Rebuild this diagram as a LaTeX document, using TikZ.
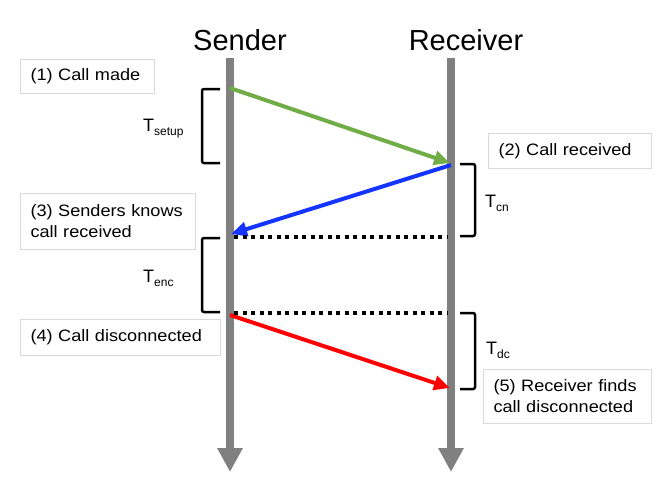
\documentclass[tikz,border=0pt]{standalone}
\usepackage{fontspec}
\setmainfont{Liberation Sans}
\newfontfamily\boxfont[FakeStretch=1.1]{Liberation Sans}
\usetikzlibrary{arrows.meta}
\definecolor{lifegray}{HTML}{808080}
\definecolor{boxgray}{HTML}{D9D9D9}
\definecolor{sgreen}{HTML}{70AD47}
\definecolor{sblue}{HTML}{1434FF}
\definecolor{sred}{HTML}{FF0000}
\begin{document}
\begin{tikzpicture}[x=1pt,y=-1pt,
  lifeline/.style={line width=8pt, draw=lifegray, -{Triangle[length=24pt,width=24pt]}},
  msg/.style={line width=4pt, -{Triangle[length=16pt,width=14pt]}},
  dotline/.style={line width=4pt, dash pattern=on 4pt off 4.5pt},
  bracket/.style={line width=2.5pt, rounded corners=2pt},
  box/.style={draw=boxgray, line width=1pt, anchor=north west, align=left, inner xsep=10pt, inner ysep=0pt, font=\boxfont\fontsize{16.5}{21}\selectfont},
  title/.style={font=\fontsize{29}{32}\selectfont, inner sep=0pt},
  tlabel/.style={anchor=base west, inner sep=0pt, font=\fontsize{18}{18}\selectfont}
]
\fill[white] (0,0) rectangle (663,495);
\useasboundingbox (0,0) rectangle (663,495);

% titles
\node[title] (sender) at (240,40) {Sender};
\node[title] (receiver) at (466,40) {Receiver};

% lifelines
\coordinate (stop) at (230,58);
\coordinate (sbot) at (230,472);
\coordinate (rtop) at (451,58);
\coordinate (rbot) at (451,472);
\draw[lifeline] (stop) -- (sbot);
\draw[lifeline] (rtop) -- (rbot);

% message points
\coordinate (g1) at (230,88);
\coordinate (g2) at (450,163);
\coordinate (b1) at (451,165);
\coordinate (b2) at (231,234);
\coordinate (d1a) at (234,237);
\coordinate (d1b) at (447,237);
\coordinate (d2a) at (234,313);
\coordinate (d2b) at (447,313);
\coordinate (r1) at (230,315);
\coordinate (r2) at (450,388);

\draw[msg, draw=sgreen, fill=sgreen] (g1) -- (g2);
\draw[msg, draw=sblue, fill=sblue] (b1) -- (b2);
\draw[msg, draw=sred, fill=sred] (r1) -- (r2);
\draw[dotline] (d1a) -- (d1b);
\draw[dotline] (d2a) -- (d2b);

% brackets
\draw[bracket] (220,89) -- (202,89) -- (202,163) -- (220,163);
\draw[bracket] (460,164) -- (475,164) -- (475,236) -- (460,236);
\draw[bracket] (220,238) -- (202,238) -- (202,312) -- (220,312);
\draw[bracket] (460,313) -- (475,313) -- (475,389) -- (460,389);

% time labels
\node[tlabel] (tsetup) at (143,131) {T\raisebox{-4pt}{\fontsize{12}{12}\selectfont setup}};
\node[tlabel] (tcn) at (485,207) {T\raisebox{-4pt}{\fontsize{12}{12}\selectfont cn}};
\node[tlabel] (tenc) at (143,282) {T\raisebox{-4pt}{\fontsize{12}{12}\selectfont enc}};
\node[tlabel] (tdc) at (486,354) {T\raisebox{-4pt}{\fontsize{12}{12}\selectfont dc}};

% event boxes
\node[box, text width=114pt, minimum height=34pt] (ev1) at (20,59) {(1) Call made};
\node[box, text width=143pt, minimum height=35pt] (ev2) at (488,133) {(2) Call received};
\node[box, text width=155pt, minimum height=56pt] (ev3) at (20,193) {(3) Senders knows\\call received};
\node[box, text width=180pt, minimum height=36pt] (ev4) at (20,319) {(4) Call disconnected};
\node[box, text width=148pt, minimum height=54pt] (ev5) at (483,369) {(5) Receiver finds\\call disconnected};
\end{tikzpicture}
\end{document}
